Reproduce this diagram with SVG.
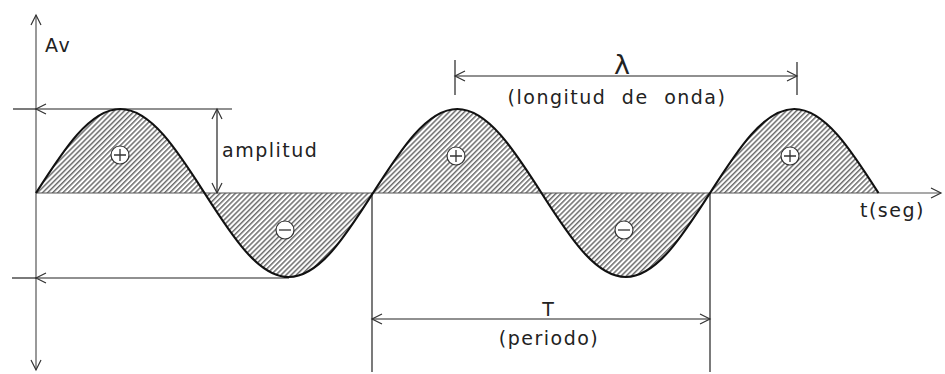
<svg xmlns="http://www.w3.org/2000/svg" width="945" height="374" viewBox="0 0 945 374">
<style>
.ax{stroke:#555;stroke-width:1.2;fill:none}
.dim{stroke:#222;stroke-width:1.2;fill:none}
.wave{stroke:#111;stroke-width:2.2;fill:none}
.t{font-family:"DejaVu Sans",sans-serif;font-size:19px;fill:#222;letter-spacing:1.5px}
.sg{fill:#fff;stroke:#333;stroke-width:1.2}
.sgl{stroke:#333;stroke-width:1.3}
</style>
<defs>
<pattern id="hatch" width="3.6" height="10" patternUnits="userSpaceOnUse" patternTransform="rotate(45)">
<line x1="0.8" y1="0" x2="0.8" y2="10" stroke="#222" stroke-width="1"/>
</pattern>
<marker id="arr" viewBox="-12 -6 14 12" markerWidth="14" markerHeight="12" refX="0" refY="0" orient="auto-start-reverse" markerUnits="userSpaceOnUse">
<path d="M-10,-5 L0,0 L-10,5" fill="none" stroke="#333" stroke-width="1.2"/>
</marker>
</defs>
<g id="hatching">
<path fill="url(#hatch)" stroke="none" d="M36,193 c27.48,-43.03 53.76,-84 84.25,-84 c30.49,0 56.77,40.97 84.25,84 c27.48,43.03 53.76,84 84.25,84 c30.49,0 56.77,-40.97 84.25,-84 c27.48,-43.03 53.76,-84 84.25,-84 c30.49,0 56.77,40.97 84.25,84 c27.48,43.03 53.76,84 84.25,84 c30.49,0 56.77,-40.97 84.25,-84 c27.48,-43.03 53.76,-84 84.25,-84 c30.49,0 56.77,40.97 84.25,84 Z"/>
</g>
<g id="connectors">
<line id="axis-y" class="ax" x1="36" y1="370" x2="36" y2="15" marker-start="url(#arr)" marker-end="url(#arr)"/>
<line id="axis-t" class="ax" x1="36" y1="193" x2="941" y2="193" marker-end="url(#arr)"/>
<line class="dim" x1="232" y1="109" x2="36" y2="109" marker-end="url(#arr)"/>
<line class="dim" x1="36" y1="109" x2="13" y2="109"/>
<line class="dim" x1="217" y1="109" x2="217" y2="193" marker-start="url(#arr)" marker-end="url(#arr)"/>
<line class="dim" x1="289" y1="278" x2="36" y2="278" marker-end="url(#arr)"/>
<line class="dim" x1="36" y1="278" x2="12" y2="278"/>
<line class="dim" x1="455" y1="60" x2="455" y2="95"/>
<line class="dim" x1="797" y1="62" x2="797" y2="95"/>
<line class="dim" x1="455" y1="76" x2="797" y2="76" marker-start="url(#arr)" marker-end="url(#arr)"/>
<line class="dim" x1="372" y1="193" x2="372" y2="372"/>
<line class="dim" x1="710" y1="193" x2="710" y2="372"/>
<line class="dim" x1="372" y1="319" x2="710" y2="319" marker-start="url(#arr)" marker-end="url(#arr)"/>
</g>
<g id="wave">
<path class="wave" d="M36,193 c27.48,-43.03 53.76,-84 84.25,-84 c30.49,0 56.77,40.97 84.25,84 c27.48,43.03 53.76,84 84.25,84 c30.49,0 56.77,-40.97 84.25,-84 c27.48,-43.03 53.76,-84 84.25,-84 c30.49,0 56.77,40.97 84.25,84 c27.48,43.03 53.76,84 84.25,84 c30.49,0 56.77,-40.97 84.25,-84 c27.48,-43.03 53.76,-84 84.25,-84 c30.49,0 56.77,40.97 84.25,84"/>
</g>
<g id="plus1"><circle class="sg" cx="120" cy="155" r="9"/><path class="sgl" d="M114,155 H126 M120,149 V161"/></g>
<g id="plus2"><circle class="sg" cx="456" cy="156" r="9"/><path class="sgl" d="M450,156 H462 M456,150 V162"/></g>
<g id="plus3"><circle class="sg" cx="790" cy="156" r="9"/><path class="sgl" d="M784,156 H796 M790,150 V162"/></g>
<g id="minus1"><circle class="sg" cx="285" cy="230" r="9"/><path class="sgl" d="M279,230 H291"/></g>
<g id="minus2"><circle class="sg" cx="624" cy="230" r="9"/><path class="sgl" d="M618,230 H630"/></g>
<g id="labels">
<text class="t" x="45" y="52">Av</text>
<text class="t" x="222" y="157">amplitud</text>
<text class="t" x="622" y="74" text-anchor="middle" style="font-size:27px;letter-spacing:0">λ</text>
<text class="t" x="617" y="104" text-anchor="middle" style="word-spacing:8px">(longitud de onda)</text>
<text class="t" x="548" y="316" text-anchor="middle" style="letter-spacing:0">T</text>
<text class="t" x="549" y="345" text-anchor="middle">(periodo)</text>
<text class="t" x="860" y="217">t(seg)</text>
</g>
</svg>
